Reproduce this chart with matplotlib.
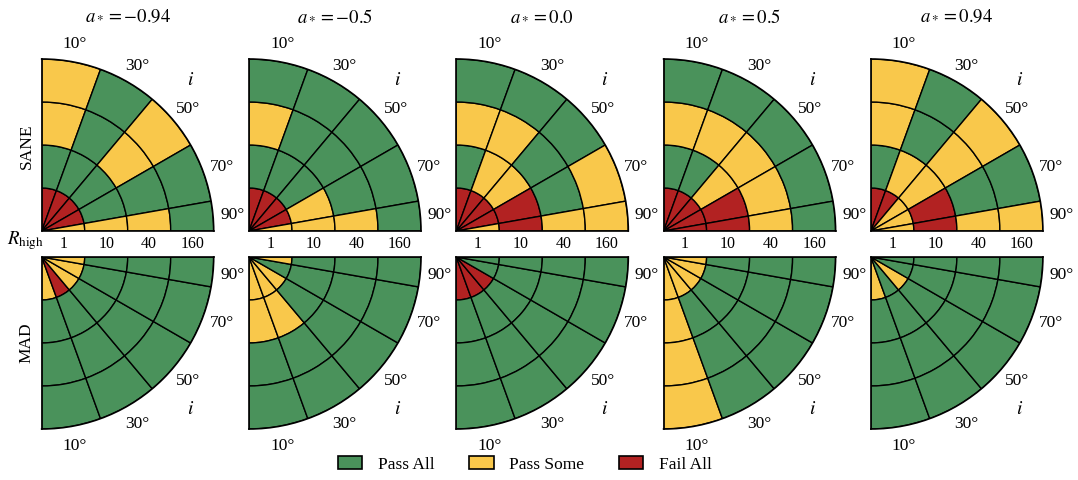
import numpy as np
import matplotlib
matplotlib.use('Agg')
import matplotlib.pyplot as plt
from matplotlib.patches import Patch

plt.rcParams['font.family'] = ['Liberation Serif', 'DejaVu Serif']
plt.rcParams['mathtext.fontset'] = 'stix'

# data
spins = ['-0.94', '-0.5', '0.0', '0.5', '0.94']
incl = [10, 30, 50, 70, 90]             # inclination (deg), wedge centres
rhigh = ['1', '10', '40', '160']        # R_high, one ring each
models = ['SANE', 'MAD']
status_names = ['Pass All', 'Pass Some', 'Fail All']
status_colors = ['#4a925b', '#f9c84b', '#b22222']

# 0 = pass all, 1 = pass some, 2 = fail all
# rows: R_high rings (1, 10, 40, 160); cols: inclination (10..90)
sane_m094 = [[2, 2, 2, 2, 1], [0, 0, 0, 0, 1], [1, 0, 1, 0, 1], [1, 0, 1, 0, 0]]
sane_m05 = [[2, 2, 2, 2, 1], [0, 0, 0, 1, 1], [1, 0, 0, 0, 1], [0, 0, 0, 0, 0]]
sane_0 = [[2, 2, 2, 2, 1], [0, 1, 1, 2, 2], [1, 1, 0, 0, 1], [0, 0, 0, 1, 1]]
sane_p05 = [[2, 2, 2, 2, 2], [0, 0, 1, 2, 2], [1, 1, 1, 1, 1], [0, 0, 0, 0, 0]]
sane_p094 = [[2, 2, 1, 1, 1], [0, 1, 1, 2, 2], [1, 0, 1, 0, 1], [1, 0, 1, 0, 1]]

mad_m094 = [[1, 2, 1, 1, 1], [0, 0, 0, 0, 0], [0, 0, 0, 0, 0], [0, 0, 0, 0, 0]]
mad_m05 = [[1, 1, 1, 0, 1], [1, 1, 0, 0, 0], [0, 0, 0, 0, 0], [0, 0, 0, 0, 0]]
mad_0 = [[2, 2, 2, 0, 0], [0, 0, 0, 0, 0], [0, 0, 0, 0, 0], [0, 0, 0, 0, 0]]
mad_p05 = [[1, 1, 1, 1, 1], [1, 0, 0, 0, 0], [1, 0, 0, 0, 0], [1, 0, 0, 0, 0]]
mad_p094 = [[1, 0, 1, 0, 0], [0, 0, 0, 0, 0], [0, 0, 0, 0, 0], [0, 0, 0, 0, 0]]

grids = [[sane_m094, sane_m05, sane_0, sane_p05, sane_p094],
         [mad_m094, mad_m05, mad_0, mad_p05, mad_p094]]

W, H = 1078, 481
fig = plt.figure(figsize=(W / 100, H / 100), dpi=100)

# wedge edges in polar angle: theta = 90 - i, width 20, clipped to the quadrant
th_lo = np.clip(90 - np.array(incl) - 10, 0, 90)
th_hi = np.clip(90 - np.array(incl) + 10, 0, 90)

x0 = [41.7, 249.0, 456.3, 663.6, 870.9]
y_top = [232.0, 430.0]   # pixel y of the lower edge of each row
size = 172.0

for row in range(2):
    for col in range(5):
        ax = fig.add_axes([x0[col] / W, 1 - y_top[row] / H, size / W, size / H],
                          projection='polar')
        ax.set_theta_zero_location('E')
        ax.set_theta_direction(1 if row == 0 else -1)
        ax.set_thetamin(0)
        ax.set_thetamax(90)
        g = np.array(grids[row][col])
        for k in range(len(rhigh)):
            for j in range(len(incl)):
                lo, hi = np.radians(th_lo[j]), np.radians(th_hi[j])
                ax.bar((lo + hi) / 2, 1, width=hi - lo, bottom=k, align='center',
                       color=status_colors[g[k, j]], edgecolor='k', linewidth=1.0)
        ax.set_ylim(0, len(rhigh))
        ax.set_xticks([])
        ax.set_yticks([])
        ax.grid(False)
        for sp in ax.spines.values():
            sp.set_linewidth(1.2)

        # inclination labels
        for j, i in enumerate(incl):
            th = np.radians(90 - i if i < 90 else 5)
            ax.text(th, 4.45, f'{i}°', ha='center', va='center', fontsize=12.5,
                    clip_on=False)
        ax.text(np.radians(45.5), 4.93, '$i$', ha='center', va='center',
                fontsize=14, clip_on=False)

        if row == 0:
            for k, lab in enumerate(rhigh):
                ax.annotate(lab, xy=(0, k + 0.5), xytext=(0, -9),
                            textcoords='offset points', ha='center', va='center',
                            fontsize=11.5, annotation_clip=False)

for col in range(5):
    fig.text((x0[col] + size / 2) / W, 1 - 16.5 / H, f'$a_* = {spins[col]}$',
             ha='center', va='center', fontsize=13.5)

fig.text(25.5 / W, 1 - 241 / H, r'$R_{\mathrm{high}}$', ha='center', va='center',
         fontsize=13.5)
fig.text(26.7 / W, 1 - 146.7 / H, models[0], rotation=90, ha='center', va='center',
         fontsize=12.5)
fig.text(26.7 / W, 1 - 343 / H, models[1], rotation=90, ha='center', va='center',
         fontsize=12.5)

handles = [Patch(facecolor=c, edgecolor='k', linewidth=1.2) for c in status_colors]
fig.legend(handles, status_names, loc='center', ncol=3, frameon=False,
           bbox_to_anchor=(525 / W, 1 - 465 / H), fontsize=12.5,
           handlelength=1.4, handleheight=0.8, handletextpad=0.9,
           columnspacing=2.0)

fig.savefig('out.png', dpi=100)
